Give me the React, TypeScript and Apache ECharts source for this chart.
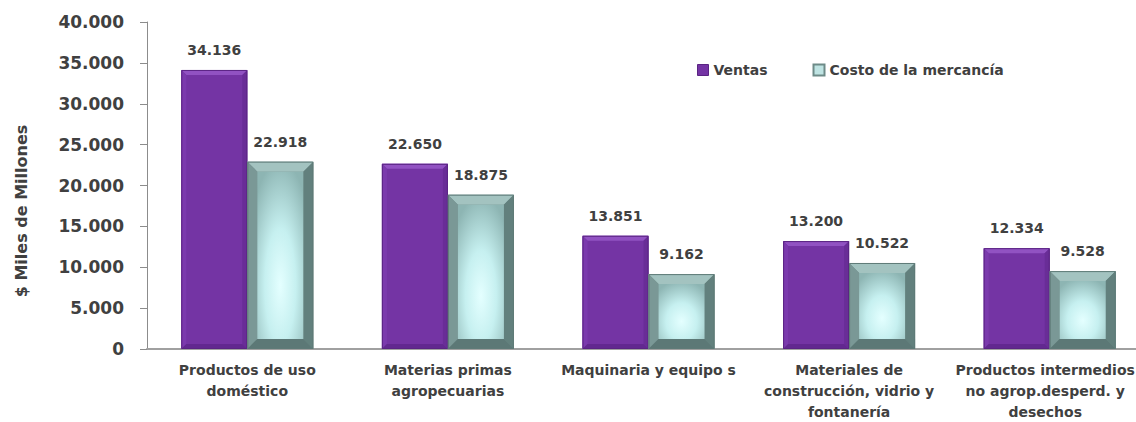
import React, { useEffect, useRef } from "react";
import * as echarts from "echarts";

const categories: string[] = [
  "Productos de uso\ndoméstico",
  "Materias primas\nagropecuarias",
  "Maquinaria y equipo s",
  "Materiales de\nconstrucción, vidrio y\nfontanería",
  "Productos intermedios\nno agrop.desperd. y\ndesechos",
];
const ventas: number[] = [34136, 22650, 13851, 13200, 12334];
const costo: number[] = [22918, 18875, 9162, 10522, 9528];
const seriesNames: string[] = ["Ventas", "Costo de la mercancía"];
const yTicks = { min: 0, max: 40000, interval: 5000 };

const FONT = "DejaVu Sans";
const TEXT = "#404040";

const fmt = (v: number) => String(v).replace(/\B(?=(\d{3})+(?!\d))/g, ".");

function makeRender(kind: number) {
  return (params: any, api: any) => {
    const idx = api.value(0);
    const val = api.value(1);
    const top = api.coord([idx, val]);
    const base = api.coord([idx, 0]);
    const band = api.size([1, 0])[0];
    const bw = Math.round(band * 0.329);
    const cx = top[0];
    const x = kind === 0 ? cx - bw : cx;
    const y = top[1];
    const y0 = base[1];
    const h = y0 - y;
    const children: any[] = [];
    if (kind === 0) {
      const b = 5;
      children.push({ type: "rect", shape: { x, y, width: bw, height: h }, style: { fill: "#7434A4" } });
      children.push({ type: "polygon", shape: { points: [[x, y], [x + bw, y], [x + bw - b, y + b], [x + b, y + b]] }, style: { fill: "#9152C2" } });
      children.push({ type: "polygon", shape: { points: [[x, y], [x + b, y + b], [x + b, y0 - b], [x, y0]] }, style: { fill: "#7B3AAD" } });
      children.push({ type: "polygon", shape: { points: [[x + bw, y], [x + bw - b, y + b], [x + bw - b, y0 - b], [x + bw, y0]] }, style: { fill: "#692D97" } });
      children.push({ type: "polygon", shape: { points: [[x, y0], [x + b, y0 - b], [x + bw - b, y0 - b], [x + bw, y0]] }, style: { fill: "#622890" } });
      children.push({ type: "rect", shape: { x: x + 0.5, y: y + 0.5, width: bw - 1, height: h - 1 }, style: { fill: "none", stroke: "#5A2483", lineWidth: 1 } });
    } else {
      const b = 10;
      children.push({ type: "rect", shape: { x, y, width: bw, height: h }, style: { fill: "#6E8B88" } });
      children.push({ type: "polygon", shape: { points: [[x, y], [x + bw, y], [x + bw - b, y + b], [x + b, y + b]] }, style: { fill: "#A3C3C0" } });
      children.push({ type: "polygon", shape: { points: [[x, y], [x + b, y + b], [x + b, y0 - b], [x, y0]] }, style: { fill: "#7A9896" } });
      children.push({ type: "polygon", shape: { points: [[x + bw, y], [x + bw - b, y + b], [x + bw - b, y0 - b], [x + bw, y0]] }, style: { fill: "#62807D" } });
      children.push({ type: "polygon", shape: { points: [[x, y0], [x + b, y0 - b], [x + bw - b, y0 - b], [x + bw, y0]] }, style: { fill: "#5C7876" } });
      children.push({
        type: "rect",
        shape: { x: x + b, y: y + b, width: bw - 2 * b, height: h - 2 * b },
        style: {
          fill: new echarts.graphic.RadialGradient(0.5, 0.68, 0.75, [
            { offset: 0, color: "#E4FFFF" },
            { offset: 0.45, color: "#C6F0F0" },
            { offset: 1, color: "#8DB5B3" },
          ]),
        },
      });
      children.push({ type: "rect", shape: { x: x + 0.5, y: y + 0.5, width: bw - 1, height: h - 1 }, style: { fill: "none", stroke: "#5E7A77", lineWidth: 1 } });
    }
    children.push({
      type: "text",
      x: x + bw / 2,
      y: y - 20,
      style: {
        text: fmt(val),
        fill: TEXT,
        font: `bold 14px "${FONT}"`,
        textAlign: "center",
        textVerticalAlign: "middle",
      },
    });
    return { type: "group", children };
  };
}

export default function App() {
  const ref = useRef<HTMLDivElement>(null);
  useEffect(() => {
    if (!ref.current) return;
    const chart = echarts.init(ref.current, undefined, { renderer: "svg" });
    const lastCat = categories[categories.length - 1];
    chart.setOption({
      animation: false,
      backgroundColor: "#FFFFFF",
      textStyle: { fontFamily: FONT },
      grid: { left: 147, right: 0, top: 22, bottom: 73, outerBoundsMode: "none", containLabel: false },
      legend: {
        left: 692,
        top: 58,
        icon: "rect",
        itemWidth: 11,
        itemHeight: 11,
        itemGap: 45,
        textStyle: { color: TEXT, fontSize: 14, fontWeight: "bold", fontFamily: FONT },
        data: [
          { name: seriesNames[0], itemStyle: { color: "#7434A4", borderColor: "#5A2483", borderWidth: 1 } },
          { name: seriesNames[1], itemStyle: { color: "#BFE4E3", borderColor: "#6E8B88", borderWidth: 2 } },
        ],
      },
      xAxis: {
        type: "category",
        data: categories,
        axisLine: { show: true, lineStyle: { color: "#A0A0A0", width: 2 } },
        axisTick: { show: false },
        axisLabel: {
          interval: 0,
          margin: 10,
          color: TEXT,
          fontSize: 14,
          fontWeight: "bold",
          lineHeight: 21,
          fontFamily: FONT,
          formatter: (v: string) =>
            v === lastCat
              ? v
                  .split("\n")
                  .map((l) => `{last|${l}}`)
                  .join("\n")
              : v,
          rich: {
            last: {
              color: TEXT,
              fontSize: 14,
              fontWeight: "bold",
              lineHeight: 21,
              fontFamily: FONT,
              padding: [0, 9, 0, 0],
            },
          },
        },
        splitLine: { show: false },
      },
      yAxis: {
        type: "value",
        min: yTicks.min,
        max: yTicks.max,
        interval: yTicks.interval,
        axisLine: { show: true, lineStyle: { color: "#8C8C8C", width: 1 } },
        axisTick: { show: true, length: 7, lineStyle: { color: "#8C8C8C" } },
        axisLabel: {
          margin: 23,
          color: TEXT,
          fontSize: 17,
          fontWeight: "bold",
          fontFamily: FONT,
          formatter: (v: number) => fmt(v),
        },
        splitLine: { show: false },
      },
      graphic: [
        {
          type: "text",
          x: 21,
          y: 211,
          rotation: Math.PI / 2,
          style: {
            text: "$ Miles de Millones",
            fill: TEXT,
            font: `bold 16px "${FONT}"`,
            textAlign: "center",
            textVerticalAlign: "middle",
          },
        },
      ],
      series: [
        {
          name: seriesNames[0],
          type: "custom",
          clip: false,
          itemStyle: { color: "#7434A4" },
          renderItem: makeRender(0),
          encode: { x: 0, y: 1 },
          data: ventas.map((v, i) => [i, v]),
        },
        {
          name: seriesNames[1],
          type: "custom",
          clip: false,
          itemStyle: { color: "#BFE4E3" },
          renderItem: makeRender(1),
          encode: { x: 0, y: 1 },
          data: costo.map((v, i) => [i, v]),
        },
      ],
    });
    return () => chart.dispose();
  }, []);
  return (
    <div
      style={{
        position: "fixed",
        left: 0,
        top: 0,
        width: 1136,
        height: 422,
        overflow: "hidden",
        background: "#FFFFFF",
      }}
    >
      <div ref={ref} style={{ width: 1150, height: 422 }} />
    </div>
  );
}
